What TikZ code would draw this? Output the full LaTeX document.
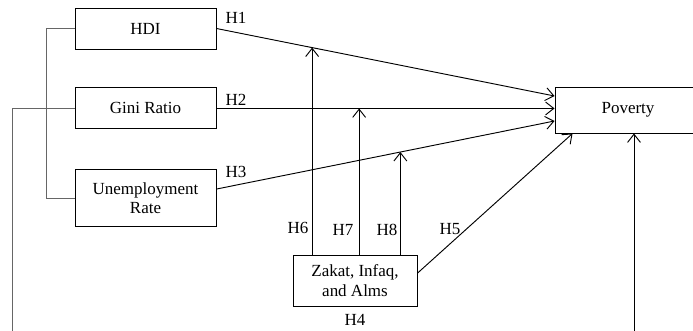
\documentclass[tikz,border=0pt]{standalone}
\usepackage{fontspec}
\setmainfont{Liberation Serif}
\usepackage{tikz}
\usetikzlibrary{arrows.meta, positioning, calc}

\begin{document}
\begin{tikzpicture}[x=0.03cm, y=-0.03cm,
            var/.style={draw, line width=0.8pt, minimum width=4.23cm,
                minimum height=1.23cm, font=\fontsize{14.5}{16.5}\selectfont,
                align=center, inner sep=2pt},
            arr/.style={-{Straight Barb[length=7pt, width=11pt]}, line width=0.8pt},
            lnk/.style={draw=black!60, line width=0.6pt},
            hyp/.style={font=\fontsize{14.5}{16.5}\selectfont, inner sep=1pt}
          ]
          \useasboundingbox (0,0) rectangle (693,330);
          % independent variables
          \node[var] (hdi) at (145.5,28.5) {HDI};
          \node[var, below=1.14cm of hdi] (gini) {Gini Ratio};
          \node[var, below=1.2cm of gini, minimum height=1.71cm] (unemp)
          {Unemployment\\Rate};
          % dependent and moderating variables
          \node[var, minimum width=4.38cm, minimum height=1.38cm] (pov) at (628,110) {Poverty};
          \node[var, minimum width=3.72cm, minimum height=1.53cm] (zak) at (355,280.5)
          {Zakat, Infaq,\\and Alms};
          % grouping lines
          \draw[lnk] (hdi.west) -- ++(-28,0) |- (unemp.west);
          \draw[lnk] (gini.west) -| (12,332);
          % direct effects
          \draw[arr] (hdi.east) -- ([yshift=0.42cm]pov.west);
          \draw[arr] (gini.east) -- (pov.west |- gini.east);
          \draw[arr] ([yshift=0.28cm]unemp.east) -- ([yshift=-0.33cm]pov.west);
          \draw[arr] ([yshift=0.22cm]zak.east) -- ([xshift=0.54cm]pov.south west);
          \draw[arr] (634,332) -- (634,0 |- pov.south);
          % moderating effects
          \coordinate (m1) at ($(hdi.east)!0.283!([yshift=0.42cm]pov.west)$);
          \coordinate (m2) at ($(gini.east)!0.422!(pov.west |- gini.east)$);
          \coordinate (m3) at ($([yshift=0.28cm]unemp.east)!0.544!([yshift=-0.33cm]pov.west)$);
          \draw[arr] (m1 |- zak.north) -- (m1);
          \draw[arr] (m2 |- zak.north) -- (m2);
          \draw[arr] (m3 |- zak.north) -- (m3);
          % hypothesis labels
          \node[hyp] (h1) at (236,18) {H1};
          \node[hyp] (h2) at (236,100) {H2};
          \node[hyp] (h3) at (236,172) {H3};
          \node[hyp] (h4) at (355,320) {H4};
          \node[hyp] (h5) at (450,229) {H5};
          \node[hyp] (h6) at (298,228) {H6};
          \node[hyp] (h7) at (343,230) {H7};
          \node[hyp] (h8) at (387,230) {H8};
        \end{tikzpicture}
\end{document}
